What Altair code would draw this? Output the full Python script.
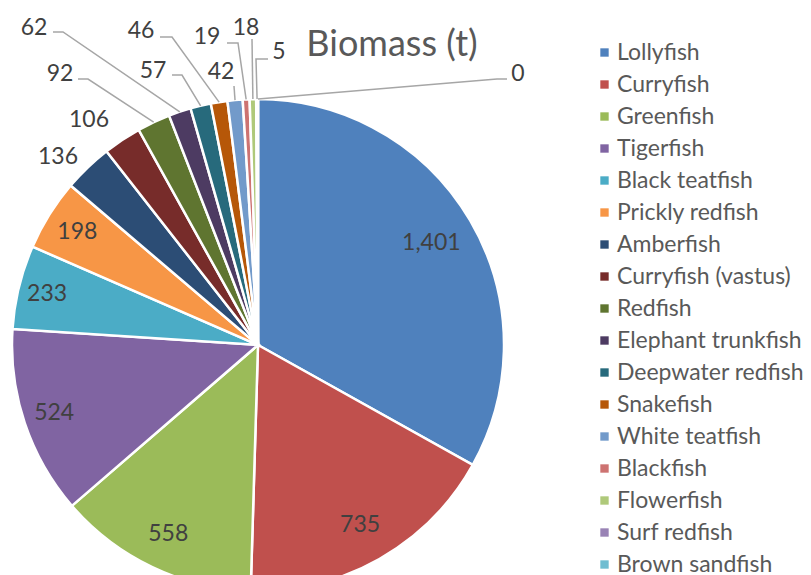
import math
import altair as alt
import pandas as pd

# ---------------- data ----------------
species = [
    "Lollyfish", "Curryfish", "Greenfish", "Tigerfish", "Black teatfish",
    "Prickly redfish", "Amberfish", "Curryfish (vastus)", "Redfish",
    "Elephant trunkfish", "Deepwater redfish", "Snakefish", "White teatfish",
    "Blackfish", "Flowerfish", "Surf redfish", "Brown sandfish",
]
biomass = [1401, 735, 558, 524, 233, 198, 136, 106, 92, 62, 57, 46, 42, 19, 18, 5, 0]
colors = [
    "#4F81BD", "#C0504D", "#9BBB59", "#8064A2", "#4BACC6", "#F79646",
    "#2C4D75", "#772C2A", "#5F7530", "#4D3B62", "#276A7C", "#B65708",
    "#729ACA", "#CD7371", "#AFC97A", "#9983B5", "#6FBDD1",
]
title_text = "Biomass (t)"

# ---------------- layout (screen px, page margin removed below) ----------------
M = 8
CX, CY, R = 258 - M, 345 - M, 246
# labels drawn inside the pie: species -> radius of label
inside_radius = {
    "Lollyfish": 201, "Curryfish": 207, "Greenfish": 209,
    "Tigerfish": 215, "Black teatfish": 217, "Prickly redfish": 213,
}
# outside labels: species -> (text x, text y, leader points before slice edge)
callouts = {
    "Amberfish": (58, 157, []),
    "Curryfish (vastus)": (89, 120, []),
    "Redfish": (60, 74, [(78, 79), (88, 79)]),
    "Elephant trunkfish": (34, 28, [(53, 32), (63, 32)]),
    "Deepwater redfish": (153, 71, [(172, 75), (182, 75)]),
    "Snakefish": (141, 31, [(160, 37), (172, 37)]),
    "White teatfish": (221, 72, [(234, 86)]),
    "Blackfish": (207, 37, [(227, 43), (238, 43)]),
    "Flowerfish": (246, 28, [(252, 39)]),
    "Surf redfish": (279, 52, [(268, 59), (256, 59)]),
    "Brown sandfish": (518, 74, [(507, 79), (497, 79)]),
}

FONT = "Lato"
LABEL_SIZE = 23
total = sum(biomass)
mids = []
cum = 0
for v in biomass:
    mids.append((cum + v / 2) / total * 2 * math.pi)
    cum += v

labels = [f"{v:,}" for v in biomass]

df = pd.DataFrame({
    "idx": list(range(len(species))),
    "species": species,
    "biomass": biomass,
})

text_rows = []
line_rows = []
for i, s in enumerate(species):
    if s in inside_radius:
        r = inside_radius[s]
        text_rows.append({"text": labels[i],
                          "x": CX + r * math.sin(mids[i]),
                          "y": CY - r * math.cos(mids[i])})
    if s in callouts:
        tx, ty, pts = callouts[s]
        text_rows.append({"text": labels[i], "x": tx - M, "y": ty - M})
        if pts:
            ax = CX + R * math.sin(mids[i])
            ay = CY - R * math.cos(mids[i])
            allpts = [(px - M, py - M) for px, py in pts] + [(ax, ay)]
            for k, (px, py) in enumerate(allpts):
                line_rows.append({"label": s, "k": k, "x": px, "y": py})
text_df = pd.DataFrame(text_rows)
line_df = pd.DataFrame(line_rows)

arcs = alt.Chart(df).mark_arc(outerRadius=R, stroke="white", strokeWidth=2.5).encode(
    theta=alt.Theta("biomass:Q", stack=True),
    color=alt.Color(
        "species:N",
        scale=alt.Scale(domain=species, range=colors),
        legend=alt.Legend(
            title=None, orient="none", legendX=585, legendY=33,
            symbolType="square", symbolSize=70, symbolStrokeWidth=0,
            labelFont=FONT, labelFontSize=23, labelColor="#595959",
            rowPadding=8, labelOffset=1, labelLimit=300,
        ),
    ),
    order=alt.Order("idx:Q"),
    x=alt.value(CX),
    y=alt.value(CY),
)

lines = alt.Chart(line_df).mark_line(color="#A6A6A6", strokeWidth=1.5).encode(
    x=alt.X("x:Q", scale=None, axis=None),
    y=alt.Y("y:Q", scale=None, axis=None),
    detail="label:N",
    order="k:Q",
)

texts = alt.Chart(text_df).mark_text(font=FONT, fontSize=LABEL_SIZE, color="#404040").encode(
    x=alt.X("x:Q", scale=None, axis=None),
    y=alt.Y("y:Q", scale=None, axis=None),
    text="text:N",
)

title = alt.Chart(pd.DataFrame({"t": [title_text]})).mark_text(
    font=FONT, fontSize=36, color="#595959", align="center", baseline="alphabetic"
).encode(text="t:N", x=alt.value(392 - M), y=alt.value(56 - M))

chart = alt.layer(arcs, lines, texts, title).properties(
    width=795, height=567, padding=0, autosize="none"
).configure_view(stroke=None)

chart.save("out.html", embed_options={"renderer": "svg", "actions": False})
